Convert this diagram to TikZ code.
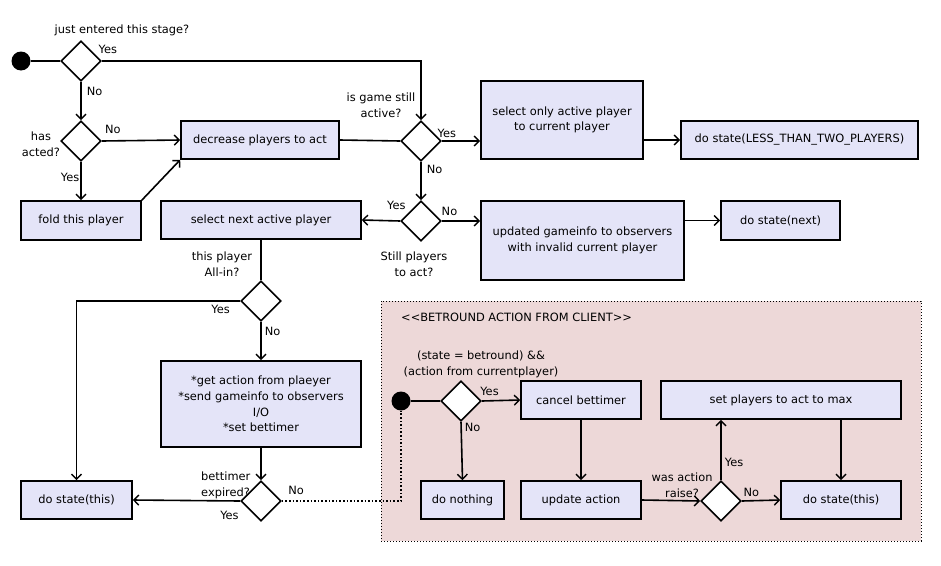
\documentclass[tikz,border=0pt]{standalone}
\usepackage{fontspec}
\setmainfont{DejaVu Sans}
\usepackage{tikz}
\usetikzlibrary{arrows.meta}
\usetikzlibrary{shapes.geometric}
\definecolor{eeeeff}{rgb}{0.894,0.894,0.973}
\definecolor{eeddee}{rgb}{0.929,0.847,0.847}
\tikzset{every node/.style={font=\fontsize{11.4}{15.7}\selectfont}}
\tikzset{box/.style={draw,line width=1.6pt,fill=eeeeff,align=center,inner sep=0pt}}
\tikzset{cond/.style={draw,diamond,aspect=1,line width=1.6pt,fill=white,inner sep=0pt,minimum width=40pt,minimum height=40pt}}
\tikzset{dot/.style={circle,fill=black,inner sep=0pt,minimum size=19pt}}
\tikzset{lbl/.style={inner sep=0pt,align=center}}

\begin{document}
\begin{tikzpicture}[line cap=butt,line join=miter,>={Straight Barb[length=5pt,width=10pt,line width=1.4pt]},x=1pt,y=-1pt]
            \useasboundingbox (0,0) rectangle (941,565);
            % client action area
            \draw [dotted,line width=1pt,fill=eeddee] (381,301) rectangle (921,541);
            \node [lbl,anchor=west] (lClient) at (401,317) {<{}<BETROUND ACTION FROM CLIENT>{}>};
            % nodes
            \node [dot] (start) at (21,61) {};
            \node [cond] (dEntered) at (81,61) {};
            \node [cond] (dActed) at (81,141) {};
            \node [box,minimum width=158pt,minimum height=38pt] (decrease) at (260,140) {decrease players to act};
            \node [box,minimum width=120pt,minimum height=39pt] (fold) at (81,220.5) {fold this player};
            \node [cond] (dActive) at (421,141) {};
            \node [cond] (dStill) at (421,221) {};
            \node [box,minimum width=162pt,minimum height=78pt] (selOnly) at (562,120) {select only active player\\to current player};
            \node [box,minimum width=237pt,minimum height=38pt] (doLess) at (799.5,140) {do state(LESS\_THAN\_TWO\_PLAYERS)};
            \node [box,minimum width=200pt,minimum height=38pt] (selNext) at (261,220) {select next active player};
            \node [box,minimum width=203pt,minimum height=79pt] (updated) at (582.5,240.5) {updated gameinfo to observers\\with invalid current player};
            \node [box,minimum width=119pt,minimum height=39pt] (doNext) at (780.5,220.5) {do state(next)};
            \node [cond] (dAllin) at (261,301) {};
            \node [box,minimum width=200pt,minimum height=86pt] (getAct) at (261,404) {*get action from plaeyer\\*send gameinfo to observers\\I/O\\*set bettimer};
            \node [cond] (dExpired) at (261,501) {};
            \node [box,minimum width=111pt,minimum height=38pt] (doThis) at (76.5,500) {do state(this)};
            \node [dot] (startClient) at (401,401) {};
            \node [cond] (dCurrent) at (461,401) {};
            \node [box,minimum width=120pt,minimum height=38pt] (cancel) at (581,400) {cancel bettimer};
            \node [box,minimum width=83pt,minimum height=38pt] (nothing) at (462.5,500) {do nothing};
            \node [box,minimum width=120pt,minimum height=38pt] (update) at (581,500) {update action};
            \node [cond] (dRaise) at (721,501) {};
            \node [box,minimum width=240pt,minimum height=38pt] (setMax) at (781,400) {set players to act to max};
            \node [box,minimum width=120pt,minimum height=38pt] (doThisClient) at (841,500) {do state(this)};
            % labels
            \node [lbl] (lEntered) at (122,30) {just entered this stage?};
            \node [lbl] (lActed) at (41,144) {has\\acted?};
            \node [lbl] (lActive) at (381,105) {is game still\\active?};
            \node [lbl] (lStill) at (414,264) {Still players\\to act?};
            \node [lbl] (lAllin) at (222,264) {this player\\All-in?};
            \node [lbl,align=left,anchor=west] (lExpired) at (201,485) {bettimer\\expired?};
            \node [lbl] (lCurrent) at (481,364) {(state = betround) \&\&\\(action from currentplayer)};
            \node [lbl] (lRaise) at (682,485) {was action\\raise?};
            % connectors
            \draw [line width=1.6pt] (start) -- (dEntered.west);
            \draw [->,line width=1.6pt] (dEntered.east) -| (dActive.north) node [lbl,pos=0,anchor=south west,xshift=-4pt,yshift=7pt] {Yes};
            \draw [->,line width=1.6pt] (dEntered.south) -- (dActed.north) node [lbl,pos=0.25,right=5pt] {No};
            \draw [->,line width=1.6pt] (dActed.east) -- (decrease.west) node [lbl,pos=0.14,above=6pt] {No};
            \draw [->,line width=1.6pt] (dActed.south) -- (fold.north) node [lbl,pos=0.4,left=1pt] {Yes};
            \draw [->,line width=1.6pt] (fold.north east) -- (decrease.south west);
            \draw [line width=1.6pt] (decrease.east) -- (dActive.west);
            \draw [->,line width=1.6pt] (dActive.east) -- (dActive.east -| selOnly.west) node [lbl,pos=0.13,above=3pt] {Yes};
            \draw [->,line width=1.6pt] (doLess.west -| selOnly.east) -- (doLess.west);
            \draw [->,line width=1.6pt] (dActive.south) -- (dStill.north) node [lbl,pos=0.2,right=5pt] {No};
            \draw [->,line width=1.6pt] (dStill.west) -- (selNext.east) node [lbl,pos=0.1,above=10pt] {Yes};
            \draw [->,line width=1.6pt] (dStill.east) -- (dStill.east -| updated.west) node [lbl,pos=0.2,above=5pt] {No};
            \draw [->,line width=1.6pt] (doNext.west -| updated.east) -- (doNext.west);
            \draw [line width=1.6pt] (selNext.south) -- (dAllin.north);
            \draw [->,line width=1.6pt] (dAllin.west) -| (doThis.north) node [lbl,pos=0.06,below=3pt] {Yes};
            \draw [->,line width=1.6pt] (dAllin.south) -- (getAct.north) node [lbl,pos=0.25,right=3pt] {No};
            \draw [->,line width=1.6pt] (getAct.south) -- (dExpired.north);
            \draw [->,line width=1.6pt] (dExpired.west) -- (doThis.east) node [lbl,pos=0.1,below=9pt] {Yes};
            \draw [dotted,line width=1.6pt] (dExpired.east) -| (startClient.south) node [lbl,pos=0.06,above=6pt] {No};
            \draw [line width=1.6pt] (startClient) -- (dCurrent.west);
            \draw [->,line width=1.6pt] (dCurrent.east) -- (cancel.west) node [lbl,pos=0.2,above=4pt] {Yes};
            \draw [->,line width=1.6pt] (dCurrent.south) -- (nothing.north) node [lbl,pos=0.1,right=3pt] {No};
            \draw [->,line width=1.6pt] (cancel.south) -- (update.north);
            \draw [->,line width=1.6pt] (update.east) -- (dRaise.west);
            \draw [->,line width=1.6pt] (dRaise.north) -- (dRaise.north |- setMax.south) node [lbl,pos=0.3,right=3pt] {Yes};
            \draw [->,line width=1.6pt] (dRaise.east) -- (doThisClient.west) node [lbl,pos=0.25,above=3pt] {No};
            \draw [->,line width=1.6pt] (doThisClient.north |- setMax.south) -- (doThisClient.north);
            \end{tikzpicture}
\end{document}
